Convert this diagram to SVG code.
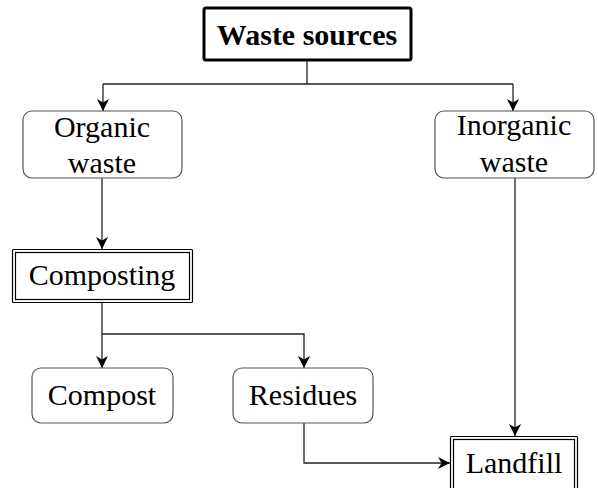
<svg xmlns="http://www.w3.org/2000/svg" width="598" height="488" viewBox="0 0 598 488">
  <defs>
    <marker id="arrow" viewBox="0 0 10 10" refX="10" refY="5" markerWidth="12" markerHeight="12" markerUnits="userSpaceOnUse" orient="auto">
      <path d="M0,0 L10,5 L0,10 L3,5 z" fill="#000"/>
    </marker>
    <style>
      text { font-family: "Liberation Serif", "Times New Roman", serif; font-size: 30px; fill: #000; text-anchor: middle; }
      .bold { font-weight: bold; }
      .round { fill: #fff; stroke: #555; stroke-width: 1.2; }
      .dbl { fill: #fff; stroke: #000; stroke-width: 1.2; }
      .thick { fill: #fff; stroke: #000; stroke-width: 3; }
      .edge { fill: none; stroke: #222; stroke-width: 1.3; }
    </style>
  </defs>
  <rect width="598" height="488" fill="#fff"/>

  <g id="connectors">
    <path class="edge" d="M307,60 V84"/>
    <path class="edge" d="M103,84 H513"/>
    <path class="edge" d="M103,84 V111" marker-end="url(#arrow)"/>
    <path class="edge" d="M513,84 V111" marker-end="url(#arrow)"/>
    <path class="edge" d="M102,178 V249" marker-end="url(#arrow)"/>
    <path class="edge" d="M102,303 V368" marker-end="url(#arrow)"/>
    <path class="edge" d="M102,334 H304 V368" marker-end="url(#arrow)"/>
    <path class="edge" d="M515,178 V436" marker-end="url(#arrow)"/>
    <path class="edge" d="M304,423 V463 H450" marker-end="url(#arrow)"/>
  </g>

  <g id="waste-sources">
    <rect class="thick" x="204" y="8" width="207" height="52" rx="2"/>
    <text class="bold" x="307" y="45">Waste sources</text>
  </g>

  <g id="organic-waste">
    <rect class="round" x="23" y="111" width="159" height="67" rx="9"/>
    <text x="102" y="137">Organic</text>
    <text x="102" y="173">waste</text>
  </g>

  <g id="inorganic-waste">
    <rect class="round" x="435" y="111" width="159" height="67" rx="9"/>
    <text x="514" y="135">Inorganic</text>
    <text x="514" y="172">waste</text>
  </g>

  <g id="composting">
    <rect class="dbl" x="12.5" y="249.5" width="180" height="53" rx="1"/>
    <rect class="dbl" x="15.5" y="252.5" width="174" height="47"/>
    <text x="102" y="285">Composting</text>
  </g>

  <g id="compost">
    <rect class="round" x="32" y="368" width="141" height="55" rx="9"/>
    <text x="102" y="405">Compost</text>
  </g>

  <g id="residues">
    <rect class="round" x="233" y="368" width="140" height="55" rx="9"/>
    <text x="303" y="405">Residues</text>
  </g>

  <g id="landfill">
    <rect class="dbl" x="450.5" y="436.5" width="127" height="56" rx="1"/>
    <rect class="dbl" x="453.5" y="439.5" width="121" height="50"/>
    <text x="514" y="473">Landfill</text>
  </g>
</svg>
